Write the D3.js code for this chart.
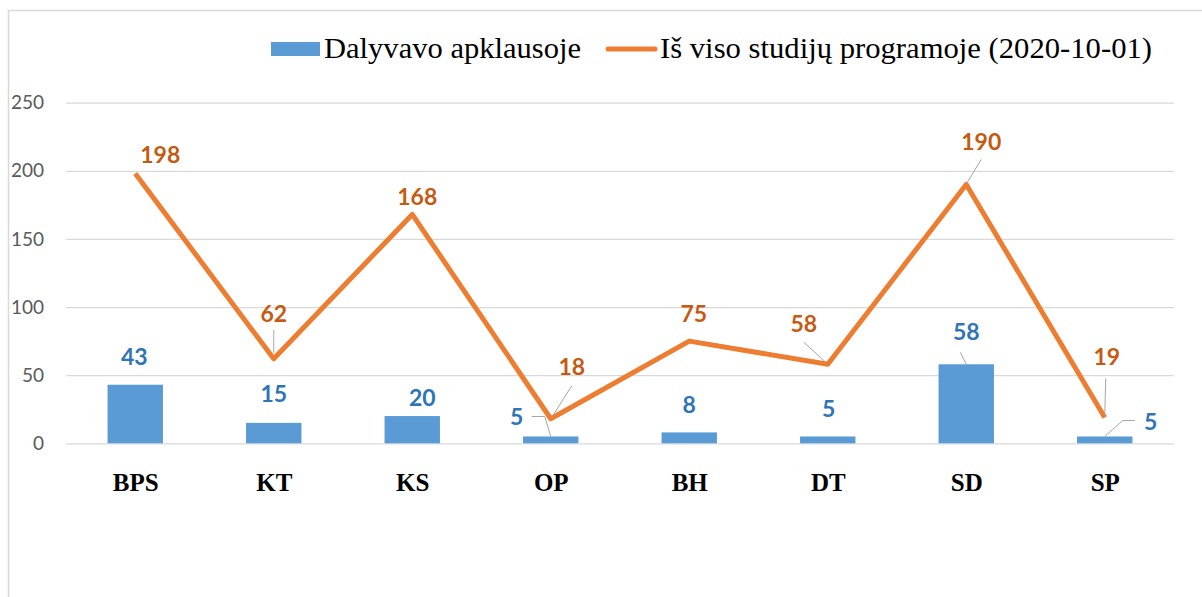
<!DOCTYPE html>
<html>
<head>
<meta charset="utf-8">
<script src="https://cdn.jsdelivr.net/npm/d3@7"></script>
<style>
  body { margin: 0; background: #fff; }
</style>
</head>
<body>
<div id="chart"></div>
<script>
const width = 1202
const height = 597
const margin = ({top: 102.7, right: 28, bottom: 153.7, left: 66})

// data
const categories = ["BPS", "KT", "KS", "OP", "BH", "DT", "SD", "SP"]
const surveyed = [43, 15, 20, 5, 8, 5, 58, 5]
const enrolled = [198, 62, 168, 18, 75, 58, 190, 19]
const yTicks = [0, 50, 100, 150, 200, 250]
const seriesNames = ["Dalyvavo apklausoje", "Iš viso studijų programoje (2020-10-01)"]

// label nudges (px, from the mark) - Excel moved some of them by hand
const barLabelNudge = [[-1,-20],[0,-21],[10,-10],[-34,-11],[0,-19],[1,-19.5],[0,-24],[46,-6.5]]
const lineLabelNudge = [[25,-11],[0,-37],[5,-9],[21,-44],[4.5,-19.5],[-24,-32],[15,-34],[2,-52]]
// leader lines, points relative to the mark
const barLeaders = {3: [[-19,-20],[-6,-20],[0,0]], 6: [[-6,-12],[0,0]], 7: [[30,-16],[18,-16],[0,0]]}
const lineLeaders = {1: [[0,-29],[0,-6]], 3: [[21,-33],[2,-3]], 5: [[-24,-22],[-2,-2]], 6: [[15,-25],[1,-2]], 7: [[1,-39],[0,-2]]}

const barColor = "#5B9BD5"
const lineColor = "#ED7D31"

const svg = d3.select("#chart")
  .append("svg")
  .attr("width", width)
  .attr("height", height)

// chart border
svg.append("rect")
  .attr("x", 8.5).attr("y", 10.5)
  .attr("width", 1210).attr("height", 600)
  .attr("fill", "none")
  .attr("stroke", "#d9d9d9")
  .attr("stroke-width", 1.5)

const x = d3.scalePoint()
  .domain(categories)
  .range([margin.left, width - margin.right])
  .padding(0.5)

const step = x.step()

const y = d3.scaleLinear()
  .domain([0, 250])
  .range([height - margin.bottom, margin.top])

// gridlines + y labels
const yAxis = g => g
  .attr("transform", `translate(${margin.left},0)`)
  .call(d3.axisLeft(y).tickValues(yTicks).tickSize(-(width - margin.left - margin.right)).tickPadding(22))
  .call(g => g.select(".domain").remove())
  .call(g => g.selectAll(".tick line").attr("stroke", "#d9d9d9").attr("stroke-width", 1.2))
  .call(g => g.selectAll(".tick text")
    .attr("fill", "#595959")
    .attr("font-family", "Lato, 'Open Sans', sans-serif")
    .attr("font-size", "19px"))

svg.append("g").attr("class", "yaxis").call(yAxis)

// x labels
const xAxis = g => g
  .attr("transform", `translate(0,${height - margin.bottom})`)
  .call(d3.axisBottom(x).tickSize(0).tickPadding(30))
  .call(g => g.select(".domain").remove())
  .call(g => g.selectAll(".tick text")
    .attr("fill", "#000")
    .attr("font-family", "'Liberation Serif', 'Times New Roman', serif")
    .attr("font-weight", "bold")
    .attr("font-size", "25px"))

svg.append("g").attr("class", "xaxis").call(xAxis)

// bars
const barW = step * 0.4
svg.append("g")
  .selectAll("rect")
  .data(surveyed)
  .join("rect")
  .attr("fill", barColor)
  .attr("x", (d, i) => x(categories[i]) - barW / 2)
  .attr("y", d => y(d))
  .attr("width", barW)
  .attr("height", d => y(0) - y(d))

// line
const line = d3.line()
  .x((d, i) => x(categories[i]))
  .y(d => y(d))

svg.append("path")
  .datum(enrolled)
  .attr("fill", "none")
  .attr("stroke", lineColor)
  .attr("stroke-width", 5)
  .attr("stroke-linejoin", "round")
  .attr("d", line)

// leader lines
const leaderLine = d3.line()
function drawLeaders(leaders, values) {
  Object.entries(leaders).forEach(([i, pts]) => {
    const px = x(categories[i]), py = y(values[i])
    svg.append("path")
      .attr("fill", "none")
      .attr("stroke", "#a6a6a6")
      .attr("stroke-width", 1)
      .attr("d", leaderLine(pts.map(p => [px + p[0], py + p[1]])))
  })
}
drawLeaders(barLeaders, surveyed)
drawLeaders(lineLeaders, enrolled)

// data labels
function drawLabels(values, nudge, color) {
  svg.append("g")
    .selectAll("text")
    .data(values)
    .join("text")
    .attr("x", (d, i) => x(categories[i]) + nudge[i][0])
    .attr("y", (d, i) => y(d) + nudge[i][1])
    .attr("text-anchor", "middle")
    .attr("font-family", "Lato, 'Open Sans', sans-serif")
    .attr("font-weight", "bold")
    .attr("font-size", "23px")
    .attr("fill", color)
    .text(d => d)
}
drawLabels(surveyed, barLabelNudge, "#2E75B6")
drawLabels(enrolled, lineLabelNudge, "#C55A11")

// legend (text a bit wider than the font gives, like the original)
const legend = svg.append("g")
  .attr("font-family", "'Liberation Serif', 'Times New Roman', serif")
  .attr("font-size", "29px")
  .attr("fill", "#000")

legend.append("rect")
  .attr("x", 271).attr("y", 42)
  .attr("width", 49).attr("height", 14)
  .attr("fill", barColor)
legend.append("text")
  .attr("x", 324).attr("y", 58)
  .attr("textLength", 257)
  .attr("lengthAdjust", "spacingAndGlyphs")
  .text(seriesNames[0])

legend.append("line")
  .attr("x1", 608).attr("x2", 655)
  .attr("y1", 49).attr("y2", 49)
  .attr("stroke", lineColor)
  .attr("stroke-width", 5)
  .attr("stroke-linecap", "round")
legend.append("text")
  .attr("x", 660).attr("y", 58)
  .attr("textLength", 492)
  .attr("lengthAdjust", "spacingAndGlyphs")
  .text(seriesNames[1])
</script>
</body>
</html>
